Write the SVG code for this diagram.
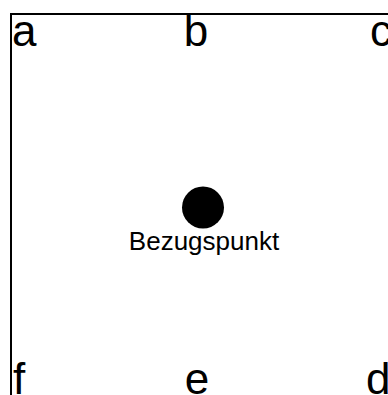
<svg xmlns="http://www.w3.org/2000/svg" width="388" height="395" viewBox="0 0 388 395">
<style>
.l{font-family:"Liberation Sans",Arial,sans-serif;font-size:44px;fill:#000}
.t{font-family:"Liberation Sans",Arial,sans-serif;font-size:26px;fill:#000}
</style>
<rect width="388" height="395" fill="#fff"/>
<g id="frame"><path d="M11,395 V14 H388" fill="none" stroke="#000" stroke-width="2"/></g>
<g id="labels">
<text class="l" x="12" y="46">a</text>
<text class="l" x="196" y="46" text-anchor="middle">b</text>
<text class="l" x="370" y="46">c</text>
<text class="l" x="13" y="394">f</text>
<text class="l" x="197" y="394" text-anchor="middle">e</text>
<text class="l" x="366" y="394">d</text>
</g>
<g id="bezugspunkt">
<circle cx="203" cy="207.5" r="21" fill="#000"/>
<text class="t" x="204" y="250" text-anchor="middle">Bezugspunkt</text>
</g>
</svg>
